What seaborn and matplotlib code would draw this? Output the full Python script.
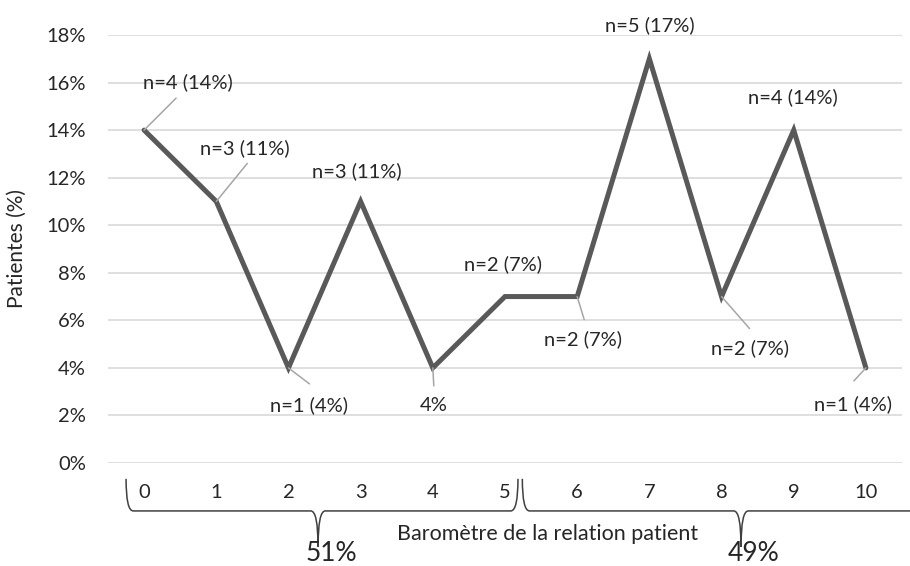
import numpy as np
import pandas as pd
import matplotlib.pyplot as plt
import seaborn as sns
from matplotlib.path import Path
from matplotlib.patches import PathPatch
from matplotlib.transforms import blended_transform_factory

sns.set_style("white")
plt.rcParams['font.family'] = ['Lato', 'DejaVu Sans']

scores = list(range(11))
pct = [14, 11, 4, 11, 4, 7, 7, 17, 7, 14, 4]
labels = ["n=4 (14%)", "n=3 (11%)", "n=1 (4%)", "n=3 (11%)", "4%", "n=2 (7%)",
          "n=2 (7%)", "n=5 (17%)", "n=2 (7%)", "n=4 (14%)", "n=1 (4%)"]
# label offsets from the point, in pixels, and end of leader line (None = no leader)
label_off = [(44, 48), (29, 53), (21, -37), (-4, 30), (1, -38), (-2, 32),
             (6, -43), (0, 34), (28, -52), (-1, 33), (-13, -36)]
leader_off = [(32, 32), (31, 38), (21, -16), None, (1, -18), None,
              (7, -23), None, (28, -32), None, (-12, -13)]
groups = ["51%", "49%"]
# brace: start, tip, end (in score units)
braces = [(-0.25, 2.41, 5.18), (5.24, 8.27, 10.75)]

df = pd.DataFrame({"score": scores, "pct": [p / 100 for p in pct]})

fig = plt.figure(figsize=(9.10, 5.66), dpi=100)
ax = fig.add_axes([108 / 910, 1 - 463 / 566, 794 / 910, 428 / 566])
sns.lineplot(data=df, x="score", y="pct", color="#595959", lw=3.6, ax=ax,
             solid_joinstyle="miter")

ax.set_xlim(-0.5, 10.5)
ax.set_ylim(0, 0.18)
ax.set_yticks(np.arange(0, 0.181, 0.02))
ax.set_yticklabels([f"{int(round(v * 100))}%" for v in np.arange(0, 0.181, 0.02)])
ax.set_xticks(scores)
ax.grid(axis="y", color="#d9d9d9", lw=1.2)
ax.set_axisbelow(True)
for s in ax.spines.values():
    s.set_visible(False)
ax.tick_params(axis="both", length=0, labelsize=14.5, colors="#262626")
ax.tick_params(axis="x", pad=15)
ax.tick_params(axis="y", pad=16)

ax.set_ylabel("Patientes (%)", fontsize=15, color="#262626")
ax.yaxis.set_label_coords(-0.102, 0.5)
ax.set_xlabel("Baromètre de la relation patient", fontsize=15.5, color="#262626")
ax.xaxis.set_label_coords(0.553, -0.142)

for x, y, lab, lo, ld in zip(df.score, df.pct, labels, label_off, leader_off):
    if ld is not None:
        ax.annotate("", xy=(x, y), xytext=ld, textcoords="offset pixels",
                    arrowprops=dict(arrowstyle="-", color="#a6a6a6", lw=1.1,
                                    shrinkA=0, shrinkB=0))
    ax.annotate(lab, xy=(x, y), xytext=lo, textcoords="offset pixels",
                ha="center", va="center", fontsize=14.5, color="#262626")

# braces under the axis
tr = blended_transform_factory(ax.transData, ax.transAxes)
yt, yh, yb = -0.037, -0.112, -0.196
c = 0.1
for (x0, xm, x1), g in zip(braces, groups):
    verts = [(x0, yt), (x0, yh), (x0 + c, yh),
             (xm - c, yh), (xm, yh), (xm, yb),
             (xm, yh), (xm + c, yh),
             (x1 - c, yh), (x1, yh), (x1, yt)]
    codes = [Path.MOVETO, Path.CURVE3, Path.CURVE3,
             Path.LINETO, Path.CURVE3, Path.CURVE3,
             Path.CURVE3, Path.CURVE3,
             Path.LINETO, Path.CURVE3, Path.CURVE3]
    ax.add_patch(PathPatch(Path(verts, codes), fill=False, ec="#404040", lw=1.1,
                           transform=tr, clip_on=False))
    ax.text(xm + 0.18, -0.212, g, transform=tr, ha="center", va="center",
            fontsize=19, color="#262626")

fig.savefig("out.png", dpi=100)
